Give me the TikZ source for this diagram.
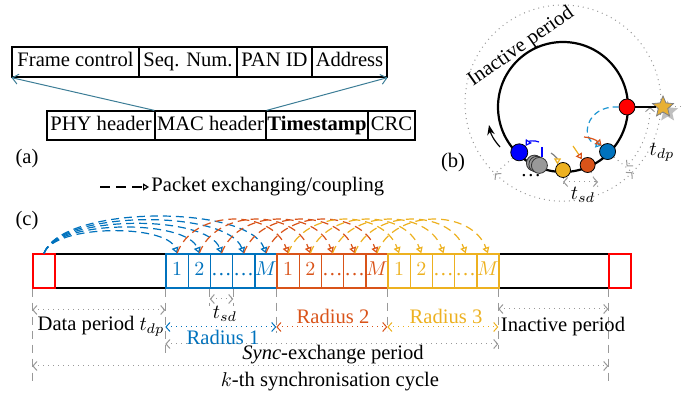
\documentclass[tikz,border=0pt]{standalone}
\usepackage{amsmath}
\usepackage{amssymb}
\usepackage{fontspec}
\setmainfont{Liberation Serif}
\usepackage{tikz}
\usetikzlibrary{positioning,shapes,shadows,arrows.meta,calc}
\usepackage{xcolor}
\definecolor{cblue}{RGB}{0,114,189}
\definecolor{clight}{RGB}{30,150,210}
\definecolor{corange}{RGB}{217,83,25}
\definecolor{cyellow}{RGB}{237,177,32}
\definecolor{cteal}{RGB}{60,125,150}
\definecolor{cstar}{RGB}{232,176,52}
\tikzstyle{field}=[rectangle, draw=black, line width=0.6pt, minimum height=14.5pt, inner sep=0pt,
text centered, text height=7pt, text depth=2pt]
\tikzstyle{slot}=[rectangle, line width=0.7pt, minimum width=11.1pt, minimum height=17pt, inner sep=0pt,
text height=7pt, text depth=2pt]
\tikzstyle{link}=[draw=cteal, line width=0.5pt, -{Straight Barb[length=3pt,width=5pt]}]
\tikzstyle{xch}=[dashed, dash pattern=on 4pt off 2.5pt, line width=0.6pt, -{Triangle[open,length=3pt,width=3.5pt]}]
\tikzstyle{tip}=[line width=0.6pt, -{Triangle[open,length=3pt,width=3.5pt]}]
\tikzstyle{vline}=[gray!80, dashed, dash pattern=on 4pt off 3pt, line width=0.5pt]
\tikzstyle{guide}=[gray!80, dotted, line width=0.5pt]
\tikzstyle{dim}=[gray!80, dotted, line width=0.5pt, {Straight Barb[length=2pt,width=4.5pt]}-{Straight Barb[length=2pt,width=4.5pt]}]
\tikzstyle{ball}=[circle, draw=black, line width=0.4pt, inner sep=0pt]
\tikzstyle{lbl}=[inner sep=1pt]

\begin{document}
\begin{tikzpicture}[x=0.5pt,y=0.5pt,font=\fontsize{10.3}{12}\selectfont]
            \useasboundingbox (0,0) rectangle (699,-399);
            \node (1)[field, minimum width=63.5pt, minimum height=15pt] at (75.5,-62) {Frame control};
            \node (2)[field, minimum width=49pt, minimum height=15pt] at (188,-62) {Seq. Num.};
            \node (3)[field, minimum width=37.5pt, minimum height=15pt] at (274.5,-62) {PAN ID};
            \node (4)[field, minimum width=37.5pt, minimum height=15pt] at (349.5,-62) {Address};
            \node (5)[field, minimum width=54pt] at (101,-125.5) {PHY header};
            \node (6)[field, minimum width=55.5pt] at (210.5,-125.5) {MAC header};
            \node (7)[field, minimum width=51pt] at (317,-125.5) {\textbf{Timestamp}};
            \node (8)[field, minimum width=23.5pt] at (391.5,-125.5) {CRC};
            \draw[link] (6.north west) -- (1.south west);
            \draw[link] (6.north east) -- (4.south east);

            \node (9)[lbl] at (27,-159) {(a)};
            \node (10)[lbl] at (453,-163) {(b)};
            \node (11)[lbl] at (27,-221) {(c)};
            \coordinate (12) at (100,-187);
            \node (13)[lbl, anchor=west] at (149,-187) {Packet exchanging/coupling};
            \draw[xch, black, dash pattern=on 5pt off 3pt] (12) -- (13.west);

            \node (20)[slot, draw=black, minimum width=55.5pt] at (110.5,-271) {};
            \node (21)[slot, draw=black, minimum width=55pt] at (554,-271) {};
            \node (22)[slot, draw=red, minimum width=11pt] at (44,-271) {};
            \node (23)[slot, draw=red, minimum width=11pt] at (620,-271) {};
            \node (31)[slot, draw=cblue, text=cblue] at (177.1,-271) {$1$};
            \node (32)[slot, draw=cblue, text=cblue] at (199.3,-271) {$2$};
            \node (33)[slot, draw=cblue, text=cblue] at (221.5,-271) {\dots};
            \node (34)[slot, draw=cblue, text=cblue] at (243.7,-271) {\dots};
            \node (35)[slot, draw=cblue, text=cblue] at (265.9,-271) {$M$};
            \node (41)[slot, draw=corange, text=corange] at (288.1,-271) {$1$};
            \node (42)[slot, draw=corange, text=corange] at (310.3,-271) {$2$};
            \node (43)[slot, draw=corange, text=corange] at (332.5,-271) {\dots};
            \node (44)[slot, draw=corange, text=corange] at (354.7,-271) {\dots};
            \node (45)[slot, draw=corange, text=corange] at (376.9,-271) {$M$};
            \node (51)[slot, draw=cyellow, text=cyellow] at (399.1,-271) {$1$};
            \node (52)[slot, draw=cyellow, text=cyellow] at (421.3,-271) {$2$};
            \node (53)[slot, draw=cyellow, text=cyellow] at (443.5,-271) {\dots};
            \node (54)[slot, draw=cyellow, text=cyellow] at (465.7,-271) {\dots};
            \node (55)[slot, draw=cyellow, text=cyellow] at (487.9,-271) {$M$};

            \draw[xch, cblue] (22.north) to[out=70,in=110,looseness=0.6] (31.north);
            \draw[xch, cblue] (22.north) to[out=70,in=110,looseness=0.6] (32.north);
            \draw[xch, cblue] (22.north) to[out=70,in=110,looseness=0.6] (33.north);
            \draw[xch, cblue] (22.north) to[out=70,in=110,looseness=0.6] (34.north);
            \draw[xch, cblue] (22.north) to[out=70,in=110,looseness=0.6] (35.north);
            \draw[xch, corange] (31.north) to[out=70,in=110,looseness=1.1] (41.north);
            \draw[xch, corange] (32.north) to[out=70,in=110,looseness=1.1] (42.north);
            \draw[xch, corange] (33.north) to[out=70,in=110,looseness=1.1] (43.north);
            \draw[xch, corange] (34.north) to[out=70,in=110,looseness=1.1] (44.north);
            \draw[xch, corange] (35.north) to[out=70,in=110,looseness=1.1] (45.north);
            \draw[xch, cyellow] (41.north) to[out=70,in=110,looseness=1.1] (51.north);
            \draw[xch, cyellow] (42.north) to[out=70,in=110,looseness=1.1] (52.north);
            \draw[xch, cyellow] (43.north) to[out=70,in=110,looseness=1.1] (53.north);
            \draw[xch, cyellow] (44.north) to[out=70,in=110,looseness=1.1] (54.north);
            \draw[xch, cyellow] (45.north) to[out=70,in=110,looseness=1.1] (55.north);

            \draw[vline] (22.south west) -- ++(0,-97);
            \draw[vline] (31.south west) -- ++(0,-67);
            \draw[vline] (41.south west) -- ++(0,-44);
            \draw[vline] (51.south west) -- ++(0,-42);
            \draw[vline] (21.south west) -- ++(0,-60);
            \draw[vline] (23.south west) -- ++(0,-97);
            \draw[vline] (33.south west) -- ++(0,-17);
            \draw[vline] (33.south east) -- ++(0,-17);
            \draw[dim] (33.south west |- 0,-299) -- (33.south east |- 0,-299);
            \node (60)[lbl] at (225,-314) {$t_{sd}$};
            \draw[dim] (22.south west |- 0,-310) -- (31.south west |- 0,-310);
            \node (61)[lbl] at (101,-326) {Data period $t_{dp}$};
            \draw[dim, cblue] (31.south west |- 0,-327) -- (41.south west |- 0,-327);
            \node (62)[lbl, text=cblue] at (223,-337) {Radius 1};
            \draw[dim, corange] (41.south west |- 0,-327) -- (51.south west |- 0,-327);
            \node (63)[lbl, text=corange] at (333,-316) {Radius 2};
            \draw[dim, cyellow] (51.south west |- 0,-327) -- (21.south west |- 0,-327);
            \node (64)[lbl, text=cyellow] at (446,-316) {Radius 3};
            \draw[dim] (21.south west |- 0,-309) -- (23.south west |- 0,-309);
            \node (65)[lbl] at (563,-327) {Inactive period};
            \draw[dim] (31.south west |- 0,-344) -- (21.south west |- 0,-344);
            \node (66)[lbl] at (333,-355) {$\mathit{Sync}$-exchange period};
            \draw[dim] (22.south west |- 0,-366) -- (23.south west |- 0,-366);
            \node (67)[lbl] at (330,-382) {$k$-th synchronisation cycle};

            \coordinate (70) at (563,-107);
            \coordinate (71) at (563,-103);
            \draw[guide] ($(71)+(-45:98)$) arc[start angle=-45, end angle=226, radius=98];
            \draw[dim] ($(71)+(226:98)$) arc[start angle=226, end angle=315, radius=98];
            \draw[line width=1.1pt] (70) circle (65);
            \node (89)[lbl, rotate=35] at (521,-47) {Inactive period};
            \coordinate (81) at ($(71)+(226:100)$);
            \coordinate (82) at ($(71)+(315:100)$);
            \coordinate (83) at (682,-107);
            \coordinate (85) at (563,-187);
            \coordinate (86) at (598,-187);
            \node (72)[ball, fill=blue, minimum size=8.5pt] at ($(70)+(226:63)$) {};
            \node (73)[ball, fill=gray!80, draw=gray!40!black, minimum size=8pt] at ($(70)+(243:63)$) {};
            \node (74)[ball, fill=gray!80, draw=gray!40!black, minimum size=8pt] at ($(70)+(245.5:63)$) {};
            \node (75)[ball, fill=gray!80, draw=gray!40!black, minimum size=8pt] at ($(70)+(248:63)$) {};
            \node (76)[ball, fill=cyellow, minimum size=7.5pt] at ($(70)+(270:63)$) {};
            \node (77)[ball, fill=corange, minimum size=7.5pt] at ($(70)+(293:63)$) {};
            \node (78)[ball, fill=cblue, minimum size=8pt] at ($(70)+(315:63)$) {};
            \node (79)[ball, fill=red, minimum size=8pt] at ($(70)+(0:64)$) {};
            \draw[guide] (79.east) -- (83);
            \draw[guide] (72) -- (81);
            \draw[guide] (78) -- (82);
            \draw[guide] (76) -- (85);
            \draw[guide] (77) -- (86);
            \draw[dim] (85 |- 0,-182) -- (86 |- 0,-182);
            \node (87)[lbl] at (583,-195) {$t_{sd}$};
            \draw[dim] ($(70)+(0:87)$) arc[start angle=0, end angle=-43, radius=87];
            \node (84)[lbl] at (662,-152) {$t_{dp}$};
            \node (80)[star, star points=5, star point ratio=2.2, fill=cstar, draw=gray, minimum size=11pt,
                inner sep=0pt, drop shadow] at (663,-107) {};
            \draw[line width=1pt] (79) -- (80);
            \node (88)[lbl] at (531,-176) {\dots};

            \coordinate (90) at (500,-147);
            \coordinate (91) at (489,-125);
            \draw[line width=0.6pt, -{Stealth[length=5pt]}] (90) to[bend left=15] (91);
            \draw[xch, clight, dash pattern=on 3pt off 2pt] (79.west) .. controls (585,-105) and (580,-140) .. (78.north west);
            \coordinate (92) at (584,-137);
            \coordinate (93) at (573,-146);
            \coordinate (94) at (551,-153);
            \coordinate (95) at (542,-147);
            \coordinate (96) at (539,-142);
            \draw[tip, corange] (92) to[bend left=20] (78.north west);
            \draw[tip, cyellow, -{Triangle[open,length=3pt,width=3.5pt,color=corange]}] (93) -- (77.north west);
            \draw[tip, gray, -{Triangle[open,length=3pt,width=3.5pt,color=cyellow]}] (94) to[bend left=30] (76.north west);
            \draw[line width=0.6pt, blue] (95) -- ++(0,-10);
            \draw[tip, blue] (96) to[bend right=40] (72.north east);
\end{tikzpicture}
\end{document}
